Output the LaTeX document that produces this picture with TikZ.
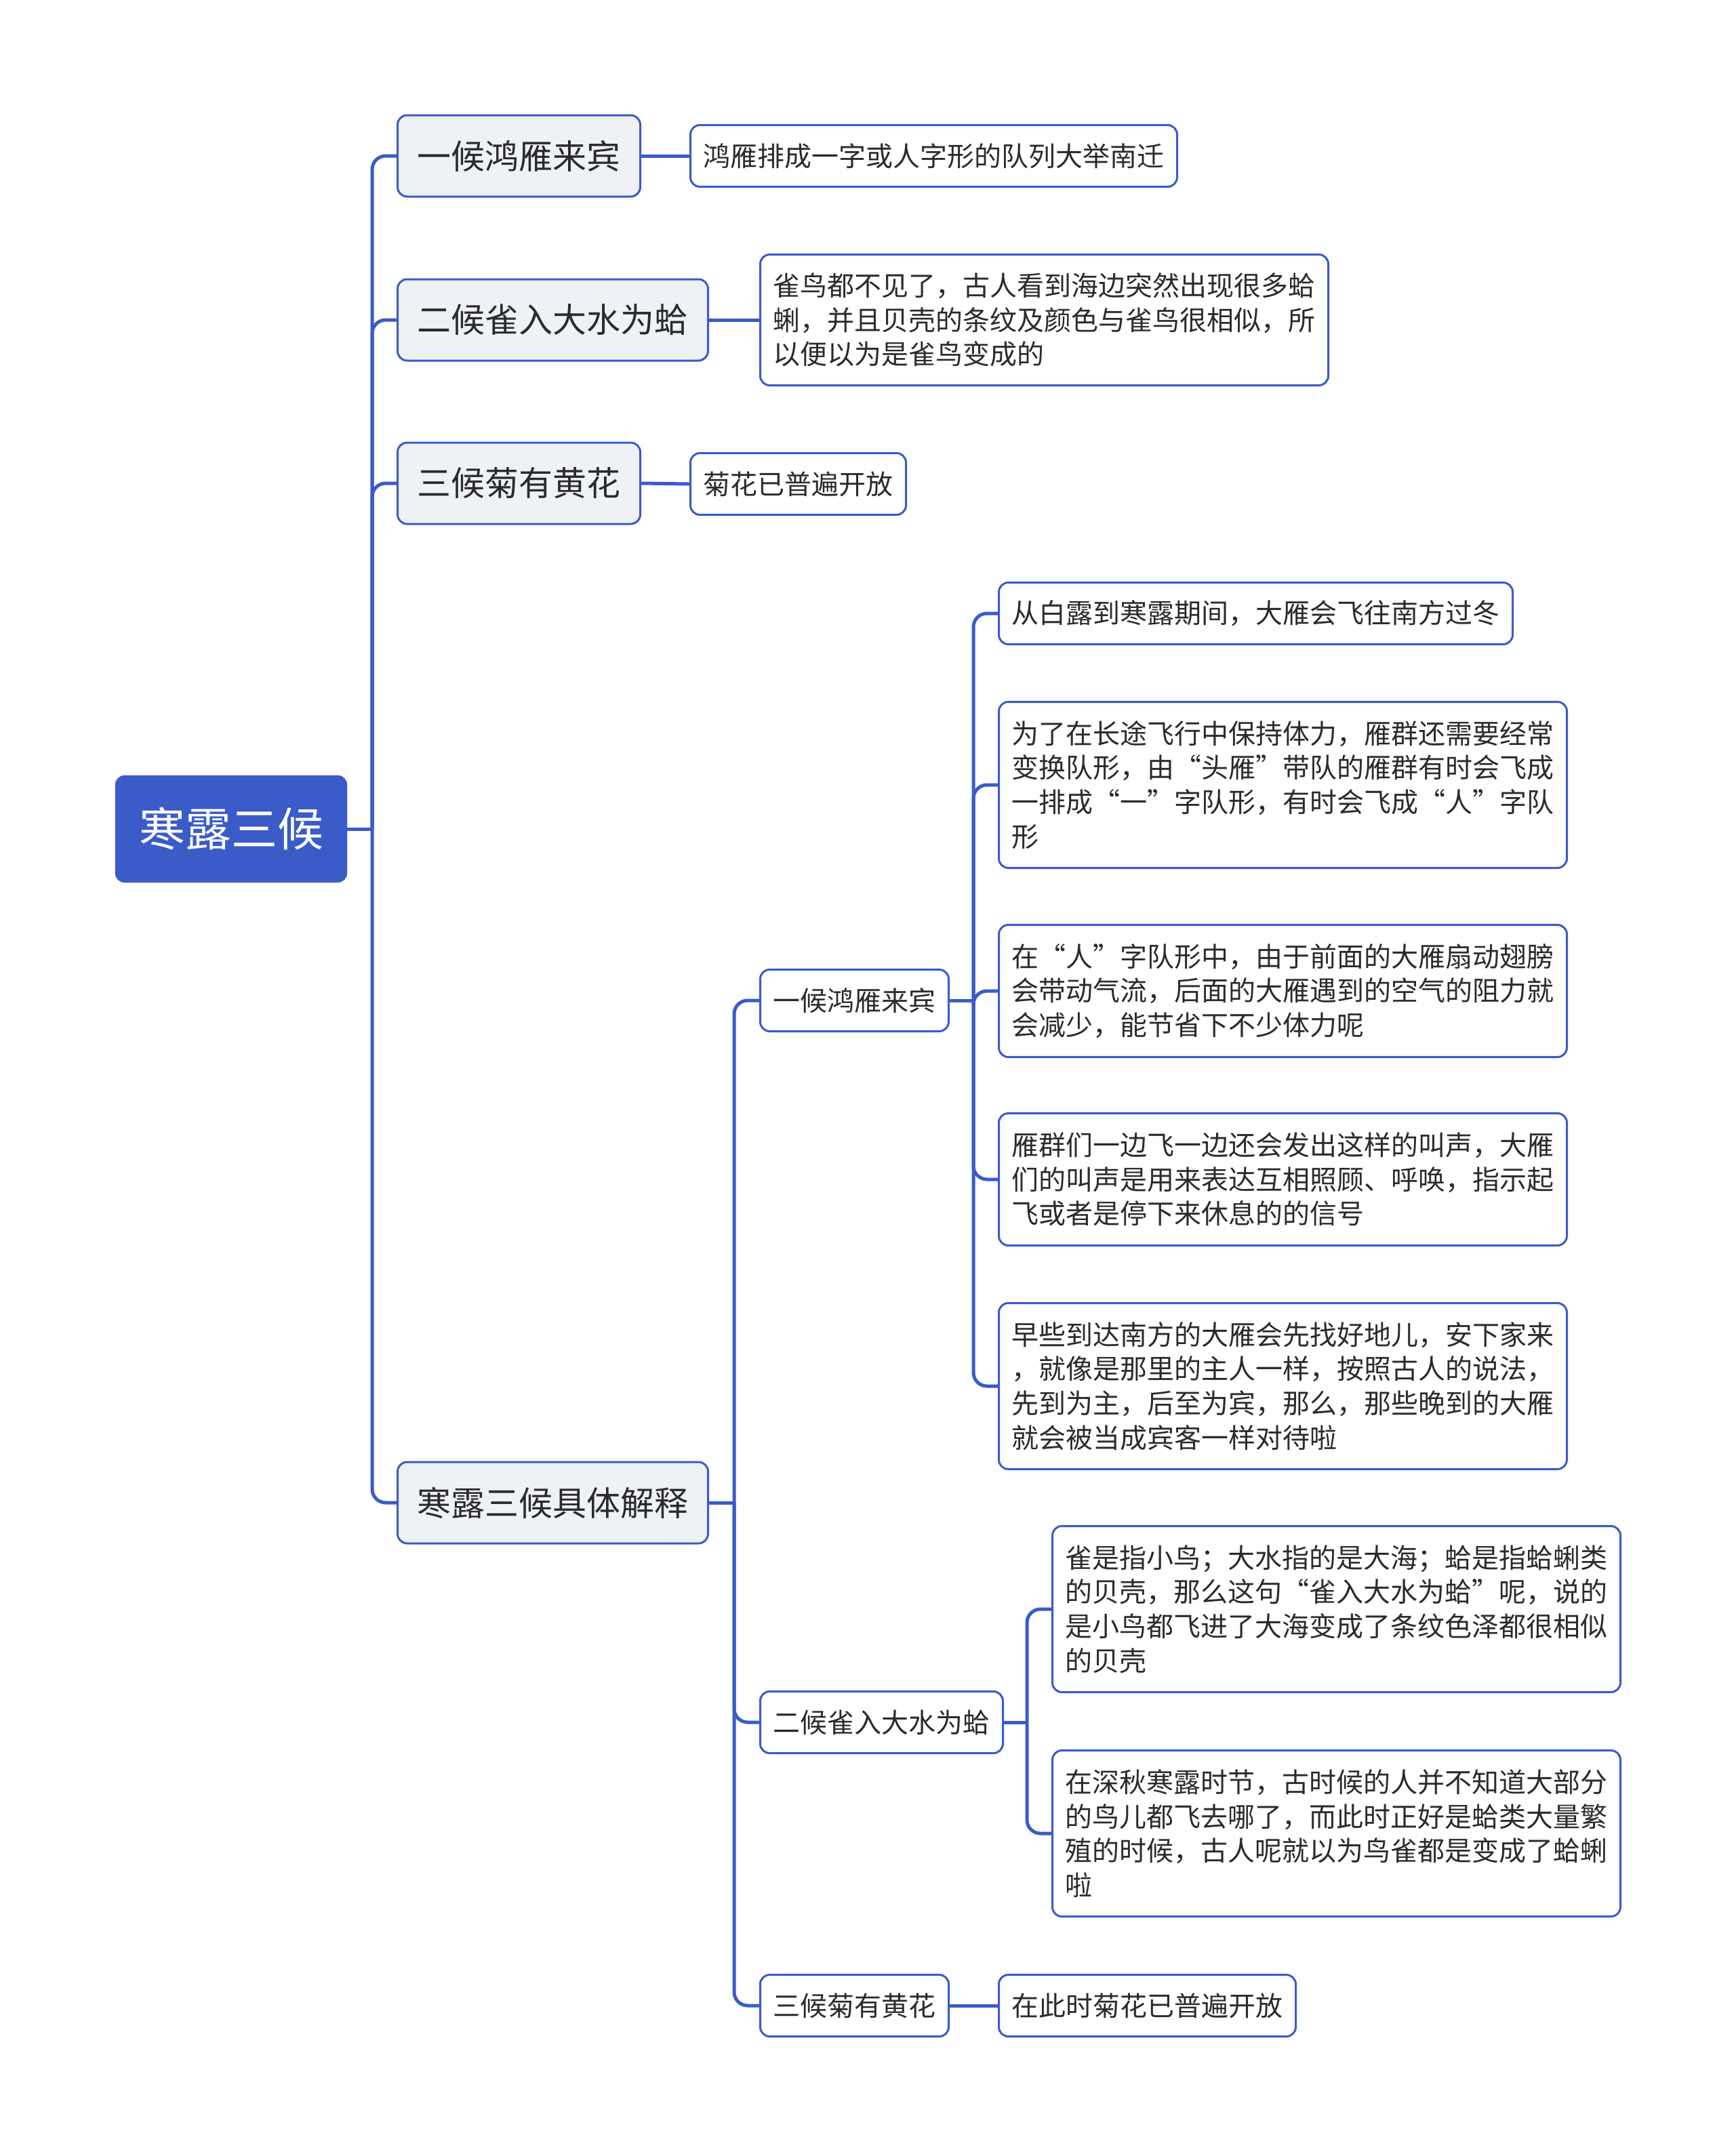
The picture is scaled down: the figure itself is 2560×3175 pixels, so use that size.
\documentclass[tikz,border=0pt]{standalone}
\usepackage{fontspec}
\setmainfont{Noto Sans CJK SC}
\usepackage{tikz}
\usetikzlibrary{positioning,calc}
\definecolor{mapblue}{HTML}{3B5BC9}
\definecolor{topicgray}{HTML}{EEF1F6}
\definecolor{inkgray}{HTML}{2B2B2B}
\tikzstyle{root} = [rectangle, rounded corners=14pt, fill=mapblue, draw=mapblue, text=white, font=\fontsize{68pt}{80pt}\selectfont, minimum width=342pt, minimum height=158pt]
\tikzstyle{topic} = [rectangle, rounded corners=14pt, fill=topicgray, draw=mapblue, line width=3pt, text=inkgray, font=\fontsize{50pt}{60pt}\selectfont, minimum height=120pt, inner xsep=29pt, anchor=west]
\tikzstyle{leaf} = [rectangle, rounded corners=14pt, fill=white, draw=mapblue, line width=3pt, text=inkgray, font=\fontsize{40pt}{50.6pt}\selectfont, minimum height=91pt, inner xsep=19pt, anchor=west]
\tikzstyle{note} = [leaf, text width=800pt, align=left]
\tikzstyle{branch} = [draw=mapblue, line width=5pt, rounded corners=20pt]

\begin{document}
\begin{tikzpicture}[x=1pt,y=-1pt]
      \useasboundingbox (0,0) rectangle (2560,3175);
      %%%%%%%%%%%%%%%%%%%%%%%%%%%%%%%%%%%%%%%
      \node[root] (root) at (341,1223) {寒露三候};
      \node[topic] (a1) at (585,230) {一候鸿雁来宾};
      \node[topic] (a2) at (585,472) {二候雀入大水为蛤};
      \node[topic] (a3) at (585,713) {三候菊有黄花};
      \node[topic] (a4) at (585,2217) {寒露三候具体解释};
      \node[leaf] (b1) at (1017,230) {鸿雁排成一字或人字形的队列大举南迁};
      \node[note, minimum height=193pt] (b2) at (1120,472) {雀鸟都不见了，古人看到海边突然出现很多蛤\\蜊，并且贝壳的条纹及颜色与雀鸟很相似，所\\以便以为是雀鸟变成的};
      \node[leaf] (b3) at (1017,714) {菊花已普遍开放};
      \node[leaf] (c1) at (1120,1476) {一候鸿雁来宾};
      \node[leaf] (c2) at (1120,2541) {二候雀入大水为蛤};
      \node[leaf] (c3) at (1120,2959) {三候菊有黄花};
      \node[leaf] (d1) at (1472,905) {从白露到寒露期间，大雁会飞往南方过冬};
      \node[note, minimum height=245pt] (d2) at (1472,1158) {为了在长途飞行中保持体力，雁群还需要经常\\变换队形，由“头雁”带队的雁群有时会飞成\\一排成“一”字队形，有时会飞成“人”字队\\形};
      \node[note, minimum height=195pt] (d3) at (1472,1462) {在“人”字队形中，由于前面的大雁扇动翅膀\\会带动气流，后面的大雁遇到的空气的阻力就\\会减少，能节省下不少体力呢};
      \node[note, minimum height=195pt] (d4) at (1472,1740) {雁群们一边飞一边还会发出这样的叫声，大雁\\们的叫声是用来表达互相照顾、呼唤，指示起\\飞或者是停下来休息的的信号};
      \node[note, minimum height=245pt] (d5) at (1472,2045) {早些到达南方的大雁会先找好地儿，安下家来\\，就像是那里的主人一样，按照古人的说法，\\先到为主，后至为宾，那么，那些晚到的大雁\\就会被当成宾客一样对待啦};
      \node[note, minimum height=245pt] (e1) at (1551,2374) {雀是指小鸟；大水指的是大海；蛤是指蛤蜊类\\的贝壳，那么这句“雀入大水为蛤”呢，说的\\是小鸟都飞进了大海变成了条纹色泽都很相似\\的贝壳};
      \node[note, minimum height=245pt] (e2) at (1551,2705) {在深秋寒露时节，古时候的人并不知道大部分\\的鸟儿都飞去哪了，而此时正好是蛤类大量繁\\殖的时候，古人呢就以为鸟雀都是变成了蛤蜊\\啦};
      \node[leaf] (f1) at (1472,2959) {在此时菊花已普遍开放};
      % trunks
      \coordinate (t0) at (549,1223);
      \coordinate (t1) at (1083,2217);
      \coordinate (t2) at (1436,1476);
      \coordinate (t3) at (1515,2541);
      \draw[branch] (root.east)--(t0);
      \draw[branch] (t0) |- (a1.west);
      \draw[branch] (t0) |- (a2.west);
      \draw[branch] (t0) |- (a3.west);
      \draw[branch] (t0) |- (a4.west);
      \draw[branch] (a1.east)--(b1.west);
      \draw[branch] (a2.east)--(b2.west);
      \draw[branch] (a3.east)--(b3.west);
      \draw[branch] (a4.east)--(t1);
      \draw[branch] (t1) |- (c1.west);
      \draw[branch] (t1) |- (c2.west);
      \draw[branch] (t1) |- (c3.west);
      \draw[branch] (c1.east)--(t2);
      \draw[branch] (t2) |- (d1.west);
      \draw[branch] (t2) |- (d2.west);
      \draw[branch] (t2) |- (d3.west);
      \draw[branch] (t2) |- (d4.west);
      \draw[branch] (t2) |- (d5.west);
      \draw[branch] (c2.east)--(t3);
      \draw[branch] (t3) |- (e1.west);
      \draw[branch] (t3) |- (e2.west);
      \draw[branch] (c3.east)--(f1.west);
\end{tikzpicture}
\end{document}
